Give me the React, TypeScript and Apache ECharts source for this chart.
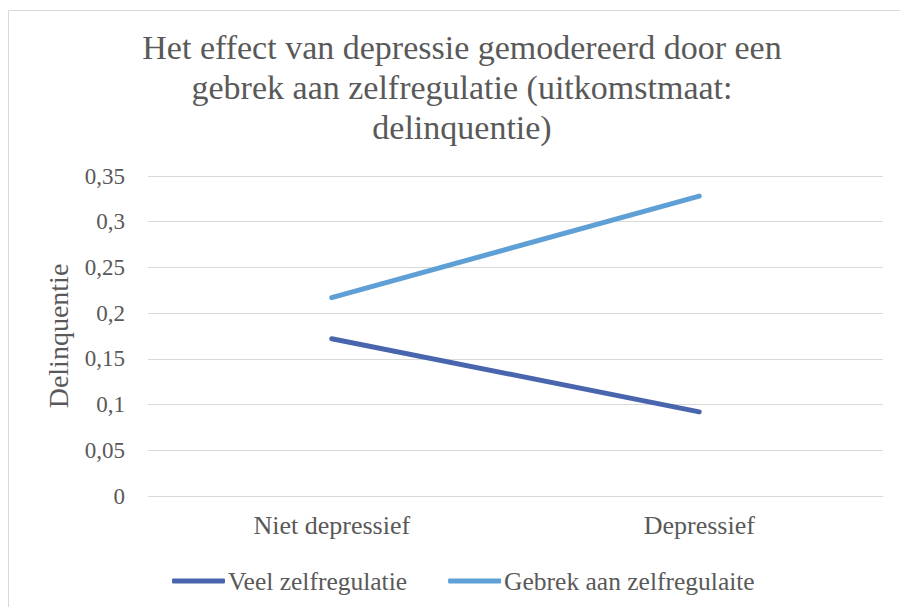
import React, { useEffect, useRef } from "react";
import * as echarts from "echarts";

const categories = ["Niet depressief", "Depressief"];
const veelZelfregulatie = [0.172, 0.092];
const gebrekZelfregulatie = [0.217, 0.328];
const seriesNames = ["Veel zelfregulatie", "Gebrek aan zelfregulaite"];
const titleText = "Het effect van depressie gemodereerd door een\ngebrek aan zelfregulatie (uitkomstmaat:\ndelinquentie)";
const yAxisName = "Delinquentie";

const FONT = "Liberation Serif";
const TEXT = "#595959";

export default function App() {
  const ref = useRef<HTMLDivElement>(null);
  useEffect(() => {
    if (!ref.current) return;
    const chart = echarts.init(ref.current, undefined, { renderer: "svg" });
    chart.setOption({
      animation: false,
      backgroundColor: "#ffffff",
      textStyle: { fontFamily: FONT, color: TEXT },
      title: {
        text: titleText,
        left: 462,
        textAlign: "center",
        top: 27,
        padding: 0,
        textStyle: {
          fontFamily: FONT,
          fontSize: 34,
          fontWeight: "normal",
          color: TEXT,
          lineHeight: 40,
        },
      },
      graphic: [
        {
          type: "rect",
          shape: { x: 8.5, y: 10.5, width: 1000, height: 1000 },
          style: { fill: "none", stroke: "#d9d9d9", lineWidth: 1 },
          silent: true,
          z: -1,
        },
      ],
      legend: {
        bottom: 13,
        left: 172,
        itemWidth: 53,
        itemHeight: 5,
        itemGap: 41,
        padding: 0,
        icon: "roundRect",
        textStyle: { fontFamily: FONT, fontSize: 25.5, color: TEXT, padding: [0, 0, 0, -2] },
        data: seriesNames,
      },
      grid: { left: 148, right: 17, top: 176, bottom: 111, containLabel: false },
      xAxis: {
        type: "category",
        data: categories,
        boundaryGap: true,
        axisLine: { show: true, lineStyle: { color: "#d9d9d9", width: 1 } },
        axisTick: { show: false },
        axisLabel: { fontFamily: FONT, fontSize: 26, color: TEXT, margin: 16 },
      },
      yAxis: {
        type: "value",
        min: 0,
        max: 0.35,
        interval: 0.05,
        name: yAxisName,
        nameLocation: "middle",
        nameGap: 76,
        nameTextStyle: { fontFamily: FONT, fontSize: 28, color: TEXT },
        axisLine: { show: false },
        axisTick: { show: false },
        splitLine: { lineStyle: { color: "#d9d9d9", width: 1 } },
        axisLabel: {
          fontFamily: FONT,
          fontSize: 23,
          color: TEXT,
          margin: 23,
          formatter: (v: number) => String(Math.round(v * 100) / 100).replace(".", ","),
        },
      },
      series: [
        {
          name: seriesNames[0],
          type: "line",
          data: veelZelfregulatie,
          symbol: "none",
          lineStyle: { width: 5, color: "#4865ad", cap: "round" },
          itemStyle: { color: "#4865ad" },
        },
        {
          name: seriesNames[1],
          type: "line",
          data: gebrekZelfregulatie,
          symbol: "none",
          lineStyle: { width: 5, color: "#5e9fd5", cap: "round" },
          itemStyle: { color: "#5e9fd5" },
        },
      ],
    });
    return () => chart.dispose();
  }, []);
  return (
    <div
      ref={ref}
      style={{ position: "fixed", left: 0, top: 0, width: 900, height: 607 }}
    />
  );
}
